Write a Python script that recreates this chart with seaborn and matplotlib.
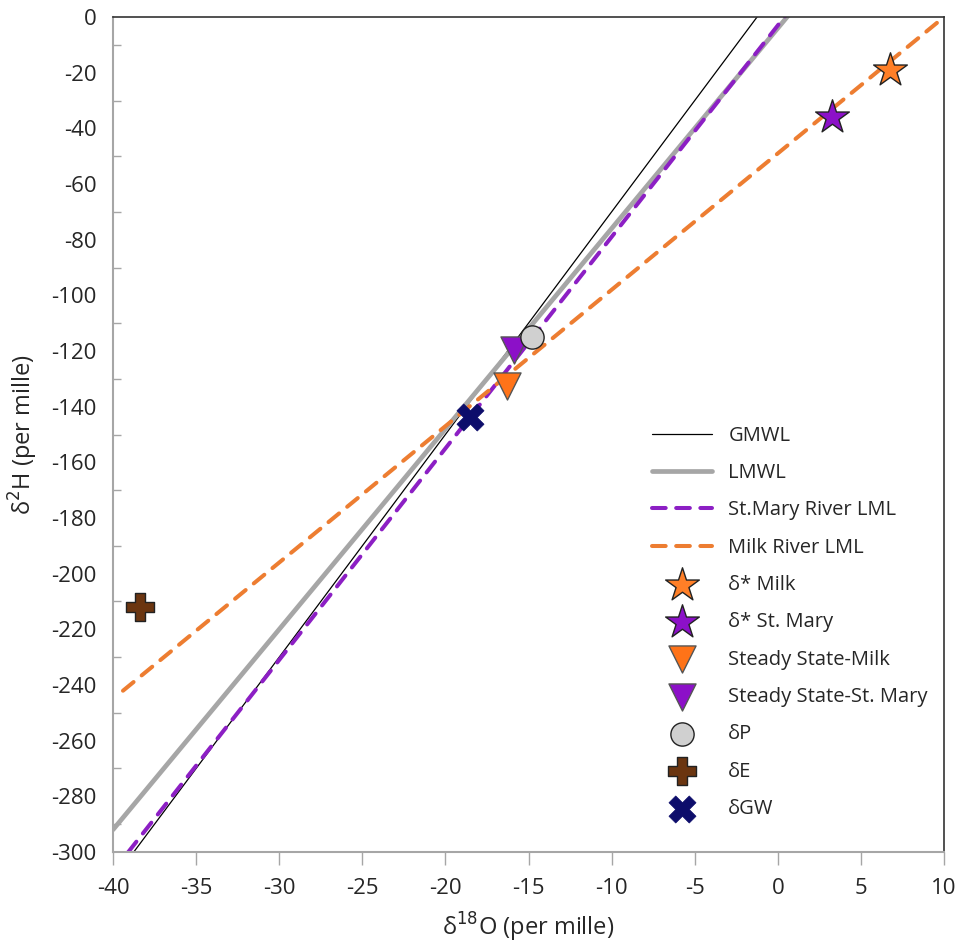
import numpy as np
import pandas as pd
import matplotlib
matplotlib.use('Agg')
import matplotlib.pyplot as plt
import seaborn as sns
from matplotlib.ticker import MultipleLocator

# meteoric water lines: d2H = slope * d18O + intercept
line_names = ['GMWL', 'LMWL', 'St.Mary River LML', 'Milk River LML']
line_slopes = [8.0, 7.2, 7.6, 4.9]
line_intercepts = [10.0, -4.0, -3.0, -49.0]
line_xstart = [-40.0, -40.0, -40.0, -39.4]
line_xend = [10.0, 10.0, 10.0, 10.0]

# isotope points
point_names = ['δ* Milk', 'δ* St. Mary', 'Steady State-Milk', 'Steady State-St. Mary', 'δP', 'δE', 'δGW']
point_d18o = [6.75, 3.25, -16.3, -15.9, -14.8, -38.4, -18.5]
point_d2h = [-19.0, -36.0, -132.5, -119.5, -115.0, -212.0, -143.7]

sns.set_style('white')
plt.rcParams['font.family'] = ['Open Sans', 'DejaVu Sans']
plt.rcParams['axes.unicode_minus'] = False

fig = plt.figure(figsize=(9.61, 9.48), dpi=100)
ax = fig.add_axes([0.1176, 0.1013, 0.8647, 0.8807])

# ---------- lines ----------
line_styles = {
    'GMWL': dict(color='black', lw=0.9, dashes=None),
    'LMWL': dict(color='#a6a6a6', lw=3.4, dashes=None),
    'St.Mary River LML': dict(color='#8c1fc4', lw=2.9, dashes=(3.4, 2.6)),
    'Milk River LML': dict(color='#ed7d31', lw=2.9, dashes=(3.4, 2.6)),
}
for name, m, b, x0, x1 in zip(line_names, line_slopes, line_intercepts, line_xstart, line_xend):
    xs = np.linspace(x0, x1, 50)
    df = pd.DataFrame({'x': xs, 'y': m * xs + b})
    st = line_styles[name]
    sns.lineplot(data=df, x='x', y='y', ax=ax, color=st['color'], lw=st['lw'], label=name)
    if st['dashes'] is not None:
        ax.lines[-1].set_dashes(st['dashes'])
        ax.lines[-1].set_dash_capstyle('round')

# ---------- points ----------
point_styles = {
    'δ* Milk': dict(marker='*', color='#ff7f27', s=650, ec='#222222', lw=1.0),
    'δ* St. Mary': dict(marker='*', color='#8c10c8', s=650, ec='#222222', lw=1.0),
    'Steady State-Milk': dict(marker='v', color='#ff7318', s=380, ec='#555555', lw=1.0),
    'Steady State-St. Mary': dict(marker='v', color='#8c10c8', s=380, ec='#555555', lw=1.0),
    'δP': dict(marker='o', color='#d0d0d0', s=280, ec='#222222', lw=1.0),
    'δE': dict(marker='P', color='#6b3510', s=380, ec='#222222', lw=1.0),
    'δGW': dict(marker='X', color='#0d0d6b', s=380, ec='#0d0d6b', lw=0.5),
}
for name, x, y in zip(point_names, point_d18o, point_d2h):
    st = point_styles[name]
    sns.scatterplot(x=[x], y=[y], ax=ax, marker=st['marker'], color=st['color'], s=st['s'],
                    edgecolor=st['ec'], linewidth=st['lw'], label=name, zorder=5)

# ---------- axes ----------
ax.set_xlim(-40, 10)
ax.set_ylim(-300, 0)
ax.xaxis.set_major_locator(MultipleLocator(5))
ax.yaxis.set_major_locator(MultipleLocator(20))
ax.yaxis.set_minor_locator(MultipleLocator(10))
ax.tick_params(axis='x', which='major', direction='out', length=9, width=1, color='#a6a6a6',
               labelsize=16, pad=10, bottom=True)
ax.tick_params(axis='y', which='major', length=0, labelsize=16, pad=12, left=True)
ax.tick_params(axis='y', which='minor', direction='in', length=6, width=1, color='#a6a6a6', left=True)
for side in ['left', 'bottom']:
    ax.spines[side].set_color('#a6a6a6')
    ax.spines[side].set_linewidth(1.5)
for side in ['top', 'right']:
    ax.spines[side].set_color('#333333')
    ax.spines[side].set_linewidth(1.2)

ax.set_xlabel('δ$^{18}$O (per mille)', fontsize=17, labelpad=8)
ax.set_ylabel('δ$^{2}$H (per mille)', fontsize=17, labelpad=8)

ax.legend(loc='lower right', bbox_to_anchor=(0.995, 0.025), frameon=False, fontsize=14.5,
          handlelength=3.0, labelspacing=0.86, handletextpad=0.8, borderaxespad=0.2)

fig.savefig('out.png', dpi=100)
